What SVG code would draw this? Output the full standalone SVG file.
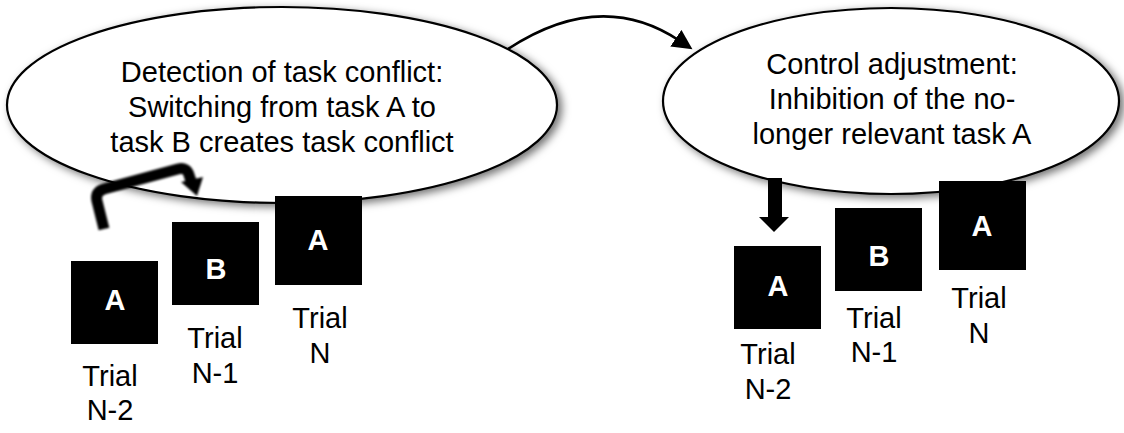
<svg xmlns="http://www.w3.org/2000/svg" width="1124" height="433" viewBox="0 0 1124 433">
<defs>
<filter id="shadow" x="-10%" y="-15%" width="125%" height="135%">
<feDropShadow dx="4" dy="3" stdDeviation="4" flood-color="#000" flood-opacity="0.55"/>
</filter>
<filter id="soft" x="-20%" y="-20%" width="140%" height="140%">
<feGaussianBlur stdDeviation="1.2"/>
</filter>
<marker id="head" markerWidth="9" markerHeight="8" refX="2" refY="4" orient="auto" markerUnits="strokeWidth">
<path d="M0,0 L8,4 L0,8 Z" fill="#000"/>
</marker>
</defs>
<style>
.bubble{fill:#fff;stroke:#000;stroke-width:2.2;filter:url(#shadow)}
.btxt{font-family:"Liberation Sans",Arial,sans-serif;font-size:29px;fill:#000;text-anchor:middle}
.box{fill:#000}
.letter{font-family:"Liberation Sans",Arial,sans-serif;font-size:29px;font-weight:bold;fill:#fff;text-anchor:middle}
.lbl{font-family:"Liberation Sans",Arial,sans-serif;font-size:29px;fill:#000;text-anchor:middle}
</style>
<rect width="1124" height="433" fill="#fff"/>

<g id="detection">
<ellipse class="bubble" cx="282" cy="105" rx="275" ry="98"/>
<text class="btxt" x="282" y="82">Detection of task conflict:</text>
<text class="btxt" x="282" y="117">Switching from task A to</text>
<text class="btxt" x="282" y="152">task B creates task conflict</text>
</g>

<g id="control">
<ellipse class="bubble" cx="891" cy="101" rx="228" ry="93"/>
<text class="btxt" x="892" y="74">Control adjustment:</text>
<text class="btxt" x="892" y="109">Inhibition of the no-</text>
<text class="btxt" x="892" y="144">longer relevant task A</text>
</g>

<g id="left-trial-n2">
<rect class="box" x="71" y="261" width="87" height="83"/>
<text class="letter" x="115" y="310">A</text>
<text class="lbl" x="110" y="386">Trial</text>
<text class="lbl" x="110" y="420">N-2</text>
</g>
<g id="left-trial-n1">
<rect class="box" x="172" y="222" width="87" height="83"/>
<text class="letter" x="216" y="279">B</text>
<text class="lbl" x="215" y="348">Trial</text>
<text class="lbl" x="215" y="383">N-1</text>
</g>
<g id="left-trial-n">
<rect class="box" x="275" y="196" width="87" height="89"/>
<text class="letter" x="318" y="250">A</text>
<text class="lbl" x="320" y="328">Trial</text>
<text class="lbl" x="320" y="363">N</text>
</g>

<g id="right-trial-n2">
<rect class="box" x="734" y="246" width="87" height="83"/>
<text class="letter" x="778" y="296">A</text>
<text class="lbl" x="768" y="364">Trial</text>
<text class="lbl" x="768" y="399">N-2</text>
</g>
<g id="right-trial-n1">
<rect class="box" x="835" y="208" width="87" height="83"/>
<text class="letter" x="879" y="266">B</text>
<text class="lbl" x="874" y="328">Trial</text>
<text class="lbl" x="874" y="362">N-1</text>
</g>
<g id="right-trial-n">
<rect class="box" x="939" y="181" width="87" height="89"/>
<text class="letter" x="982" y="236">A</text>
<text class="lbl" x="979" y="308">Trial</text>
<text class="lbl" x="979" y="343">N</text>
</g>

<g id="connectors">
<path d="M508,49 Q601,-12 680,41" fill="none" stroke="#000" stroke-width="2.5" marker-end="url(#head)"/>
<g filter="url(#soft)">
<path d="M104,229 L97,201 Q95,192 104,189 L178,169 Q187,167 189,175 L191,181" fill="none" stroke="#000" stroke-width="11" stroke-linejoin="round"/>
<polygon points="181,182 203,177 197,196" fill="#000"/>
</g>
<rect x="768" y="178" width="14" height="40" fill="#000"/>
<polygon points="759,217 789,217 774,232" fill="#000"/>
</g>
</svg>
